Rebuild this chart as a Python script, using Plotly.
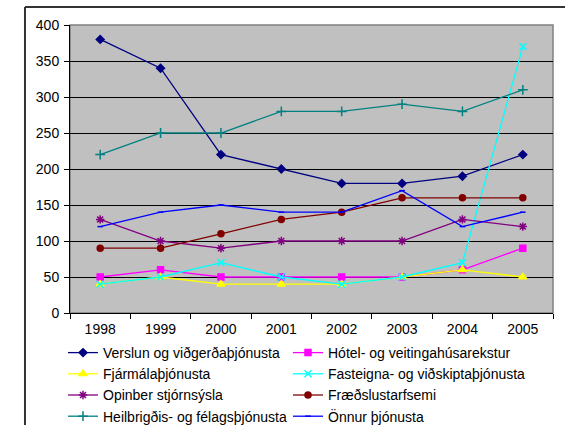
import plotly.graph_objects as go

years = ["1998", "1999", "2000", "2001", "2002", "2003", "2004", "2005"]

verslun = [380, 340, 220, 200, 180, 180, 190, 220]
hotel = [50, 60, 50, 50, 50, 50, 60, 90]
fjarmala = [40, 50, 40, 40, 40, 50, 60, 50]
fasteigna = [40, 50, 70, 50, 40, 50, 70, 370]
opinber = [130, 100, 90, 100, 100, 100, 130, 120]
fraedslu = [90, 90, 110, 130, 140, 160, 160, 160]
heilbrigdis = [220, 250, 250, 280, 280, 290, 280, 310]
onnur = [120, 140, 150, 140, 140, 170, 120, 140]

series = [
    ("Verslun og viðgerðaþjónusta", verslun, "#000080", "diamond", 6, "legend"),
    ("Hótel- og veitingahúsarekstur", hotel, "#FF00FF", "square", 6, "legend2"),
    ("Fjármálaþjónusta", fjarmala, "#FFFF00", "triangle-up", 7, "legend"),
    ("Fasteigna- og viðskiptaþjónusta", fasteigna, "#00FFFF", "x-thin", 7, "legend2"),
    ("Opinber stjórnsýsla", opinber, "#800080", "asterisk", 7, "legend"),
    ("Fræðslustarfsemi", fraedslu, "#800000", "circle", 6, "legend2"),
    ("Heilbrigðis- og félagsþjónusta", heilbrigdis, "#008080", "cross-thin", 7, "legend"),
    ("Önnur þjónusta", onnur, "#0000FF", "line-ew", 4, "legend2"),
]

fig = go.Figure()
for name, vals, color, sym, size, lg in series:
    fig.add_trace(go.Scatter(
        x=years, y=vals, name=name, mode="lines+markers",
        line=dict(color=color, width=1.3),
        marker=dict(symbol=sym, size=size, color=color,
                    line=dict(color=color, width=1.5)),
        legend=lg,
    ))

legend_common = dict(
    orientation="v", xref="container", yref="container",
    xanchor="left", yanchor="top", itemwidth=30, font=dict(size=14),
    bgcolor="rgba(0,0,0,0)", traceorder="normal",
)

fig.update_layout(
    width=565, height=425,
    margin=dict(l=70, r=12, t=25, b=112, autoexpand=False),
    paper_bgcolor="white",
    plot_bgcolor="#C0C0C0",
    font=dict(family="Liberation Sans, Arial, sans-serif", size=14, color="black"),
    showlegend=True,
    legend=dict(x=63 / 565, y=1 - 337 / 425, **legend_common),
    legend2=dict(x=288 / 565, y=1 - 337 / 425, **legend_common),
    shapes=[
        dict(type="rect", xref="paper", yref="paper", x0=0, y0=0, x1=1, y1=1,
             line=dict(color="#808080", width=1.5), layer="below"),
        dict(type="line", xref="paper", yref="paper", x0=-0.0932, y0=1.0625,
             x1=1.1, y1=1.0625, line=dict(color="#333333", width=2)),
        dict(type="line", xref="paper", yref="paper", x0=-0.0932, y0=1.0625,
             x1=-0.0932, y1=-0.5, line=dict(color="#333333", width=2)),
    ],
)
fig.update_xaxes(
    type="category", range=[-0.5, 7.5], showgrid=False,
    showline=True, linecolor="black", linewidth=1,
    ticks="outside", ticklen=5, tickcolor="black", tickson="boundaries",
    tickfont=dict(size=14), automargin=False, ticklabelstandoff=3,
)
fig.update_yaxes(
    range=[0, 400], dtick=50, showgrid=True, gridcolor="black", gridwidth=1,
    zeroline=False, showline=True, linecolor="black", linewidth=1,
    ticks="outside", ticklen=5, tickcolor="black",
    tickfont=dict(size=14), automargin=False, ticklabelstandoff=2,
)

fig.write_html("out.html", config={"displayModeBar": False},
               post_script="document.body.style.margin='0';")
